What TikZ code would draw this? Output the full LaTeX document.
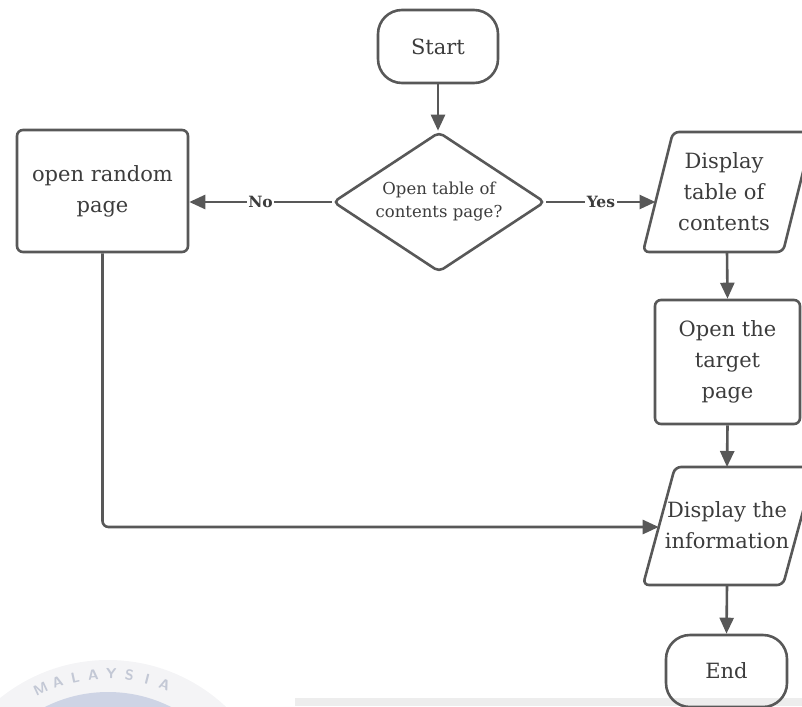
\documentclass[tikz,border=0pt]{standalone}
\usepackage{fontspec}
\setmainfont{DejaVu Serif}
\usetikzlibrary{arrows.meta,shapes.geometric}

\definecolor{edge}{HTML}{585858}
\definecolor{ink}{HTML}{3C3C3C}
\definecolor{wmtext}{HTML}{C3C8D5}
\definecolor{wmdisc}{HTML}{CED4E5}
\definecolor{wmring}{HTML}{F4F4F6}
\definecolor{band}{HTML}{EDEDED}

\tikzset{
  shapeline/.style={draw=edge, line width=2.6pt, text=ink, inner sep=0pt,
    align=center, font=\fontsize{21}{31}\selectfont},
  terminal/.style={shapeline, rectangle, rounded corners=24pt},
  process/.style={shapeline, rectangle, rounded corners=6pt},
  decision/.style={shapeline, diamond, aspect=1.514, rounded corners=5pt,
    font=\fontsize{16.5}{23}\selectfont},
  % parallelogram outline drawn as a path, text set in a plain node
  iotext/.style={text=ink, inner sep=0pt, align=center,
    font=\fontsize{21}{31}\selectfont},
  ioline/.style={draw=edge, line width=2.6pt, rounded corners=6pt},
  conn/.style={draw=edge, line width=2.6pt,
    -{Triangle[length=16pt,width=14pt]}},
  lbl/.style={fill=white, text=ink, inner xsep=1.5pt, inner ysep=1pt,
    font=\bfseries\fontsize{15.5}{15.5}\selectfont},
  wmletter/.style={text=wmtext, inner sep=0pt,
    font=\sffamily\bfseries\fontsize{14.5}{14.5}\selectfont}
}

\begin{document}
\begin{tikzpicture}[x=1pt,y=-1pt]
\useasboundingbox (0,0) rectangle (802,706);

% faint seal in the lower left corner
\fill[wmring] (108,832) circle (172);
\fill[wmdisc] (108,832) circle (140);
\foreach \ch/\a [count=\i] in {M/115.2,A/108.6,L/102.0,A/95.4,Y/88.8,S/82.2,I/75.6,A/69.0}
  \node[wmletter, rotate=\a-90] (wm\i) at ([shift={(-\a:158)}]108,832) {\ch};

% grey strip along the bottom edge
\fill[band] (295,698) rectangle (802,706);

% flowchart blocks
\node[terminal, minimum width=120pt, minimum height=73pt] (start) at (438,46.5) {Start};
\node[decision, minimum width=212pt, minimum height=140pt] (dec) at (439,202)
  {Open table of\\contents page?};
\node[process, minimum width=171pt, minimum height=122pt] (rand) at (102.5,191)
  {open random\\page};

\draw[ioline] (643,252) -- (673,132) -- (813,132) -- (783,252) -- cycle;
\node[iotext] (dtoc) at (724,192) {Display\\table of\\contents};
\coordinate (dtoc-w) at (655.5,202);
\coordinate (dtoc-s) at (727,252);

\node[process, minimum width=145pt, minimum height=124pt] (target) at (727.5,362)
  {Open the\\target\\page};

\draw[ioline] (643,585) -- (675,467) -- (815,467) -- (783,585) -- cycle;
\node[iotext] (info) at (727,525.5) {Display the\\information};
\coordinate (info-n) at (727,467);
\coordinate (info-s) at (727,585);
\coordinate (info-w) at (658.7,527);

\node[terminal, minimum width=121pt, minimum height=72pt] (end) at (726.5,671) {End};

% connectors
\draw[conn] (start.south) -- (start.south |- dec.north);
\draw[conn] (dec.west) -- node[lbl] {No} (dec.west -| rand.east);
\draw[conn] (dec.east) -- node[lbl] {Yes} (dtoc-w);
\draw[conn] (dtoc-s) -- (target.north);
\draw[conn] (target.south) -- (info-n);
\draw[conn] (info-s) -- (end.north);
\draw[conn, rounded corners=6pt] (rand.south) |- (info-w);
\end{tikzpicture}
\end{document}
